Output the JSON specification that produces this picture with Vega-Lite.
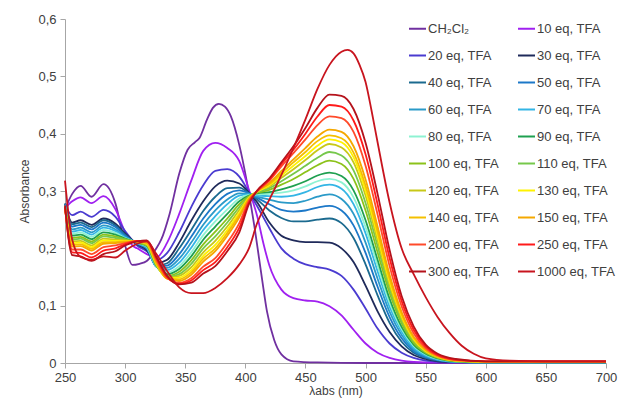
{
"$schema":"https://vega.github.io/schema/vega-lite/v6.json",
"width":541,"height":344,
"autosize":{"type":"none"},
"padding":{"left":65,"top":19,"right":13,"bottom":43},
"background":"white",
"config":{"view":{"stroke":null},"font":"Liberation Sans"},
"data":{"values":[
{"s":"0","x":250,"y":0.268},{"s":"0","x":256,"y":0.295},{"s":"0","x":263,"y":0.309},{"s":"0","x":272,"y":0.29},{"s":"0","x":282,"y":0.312},{"s":"0","x":292,"y":0.278},{"s":"0","x":300,"y":0.205},{"s":"0","x":306,"y":0.171},{"s":"0","x":312,"y":0.173},{"s":"0","x":318,"y":0.178},{"s":"0","x":326,"y":0.2},{"s":"0","x":330,"y":0.215},{"s":"0","x":337,"y":0.26},{"s":"0","x":345,"y":0.33},{"s":"0","x":352,"y":0.372},{"s":"0","x":358,"y":0.385},{"s":"0","x":362,"y":0.393},{"s":"0","x":368,"y":0.424},{"s":"0","x":373,"y":0.445},{"s":"0","x":378,"y":0.452},{"s":"0","x":383,"y":0.447},{"s":"0","x":388,"y":0.43},{"s":"0","x":395,"y":0.38},{"s":"0","x":401,"y":0.319},{"s":"0","x":408,"y":0.232},{"s":"0","x":414,"y":0.145},{"s":"0","x":418,"y":0.09},{"s":"0","x":424,"y":0.04},{"s":"0","x":430,"y":0.015},{"s":"0","x":440,"y":0.003},{"s":"0","x":460,"y":0.001},{"s":"0","x":500,"y":0},{"s":"0","x":600,"y":0},{"s":"0","x":700,"y":0},
{"s":"10","x":250,"y":0.27},{"s":"10","x":256,"y":0.282},{"s":"10","x":263,"y":0.289},{"s":"10","x":272,"y":0.279},{"s":"10","x":282,"y":0.291},{"s":"10","x":292,"y":0.268},{"s":"10","x":300,"y":0.228},{"s":"10","x":306,"y":0.205},{"s":"10","x":310,"y":0.2},{"s":"10","x":318,"y":0.19},{"s":"10","x":326,"y":0.184},{"s":"10","x":335,"y":0.21},{"s":"10","x":345,"y":0.26},{"s":"10","x":355,"y":0.318},{"s":"10","x":365,"y":0.37},{"s":"10","x":375,"y":0.384},{"s":"10","x":385,"y":0.375},{"s":"10","x":395,"y":0.352},{"s":"10","x":403,"y":0.302},{"s":"10","x":410,"y":0.255},{"s":"10","x":415,"y":0.209},{"s":"10","x":420,"y":0.17},{"s":"10","x":430,"y":0.128},{"s":"10","x":440,"y":0.113},{"s":"10","x":450,"y":0.109},{"s":"10","x":460,"y":0.107},{"s":"10","x":470,"y":0.099},{"s":"10","x":480,"y":0.083},{"s":"10","x":490,"y":0.058},{"s":"10","x":500,"y":0.034},{"s":"10","x":510,"y":0.018},{"s":"10","x":520,"y":0.009},{"s":"10","x":530,"y":0.004},{"s":"10","x":540,"y":0.002},{"s":"10","x":560,"y":0.001},{"s":"10","x":600,"y":0.001},{"s":"10","x":700,"y":0.001},
{"s":"20","x":250,"y":0.275},{"s":"20","x":256,"y":0.258},{"s":"20","x":263,"y":0.264},{"s":"20","x":272,"y":0.255},{"s":"20","x":282,"y":0.267},{"s":"20","x":292,"y":0.255},{"s":"20","x":300,"y":0.23},{"s":"20","x":310,"y":0.205},{"s":"20","x":318,"y":0.195},{"s":"20","x":326,"y":0.18},{"s":"20","x":335,"y":0.192},{"s":"20","x":345,"y":0.228},{"s":"20","x":355,"y":0.272},{"s":"20","x":365,"y":0.31},{"s":"20","x":375,"y":0.335},{"s":"20","x":385,"y":0.338},{"s":"20","x":395,"y":0.325},{"s":"20","x":403,"y":0.298},{"s":"20","x":410,"y":0.273},{"s":"20","x":420,"y":0.235},{"s":"20","x":430,"y":0.2},{"s":"20","x":440,"y":0.182},{"s":"20","x":450,"y":0.172},{"s":"20","x":460,"y":0.167},{"s":"20","x":470,"y":0.163},{"s":"20","x":480,"y":0.152},{"s":"20","x":490,"y":0.128},{"s":"20","x":500,"y":0.095},{"s":"20","x":510,"y":0.06},{"s":"20","x":520,"y":0.034},{"s":"20","x":530,"y":0.018},{"s":"20","x":540,"y":0.009},{"s":"20","x":550,"y":0.004},{"s":"20","x":560,"y":0.002},{"s":"20","x":575,"y":0.001},{"s":"20","x":600,"y":0.001},{"s":"20","x":650,"y":0.001},{"s":"20","x":700,"y":0.001},
{"s":"30","x":250,"y":0.278},{"s":"30","x":256,"y":0.245},{"s":"30","x":263,"y":0.249},{"s":"30","x":272,"y":0.241},{"s":"30","x":282,"y":0.252},{"s":"30","x":292,"y":0.243},{"s":"30","x":300,"y":0.226},{"s":"30","x":310,"y":0.207},{"s":"30","x":318,"y":0.197},{"s":"30","x":326,"y":0.174},{"s":"30","x":335,"y":0.18},{"s":"30","x":345,"y":0.21},{"s":"30","x":355,"y":0.248},{"s":"30","x":365,"y":0.282},{"s":"30","x":375,"y":0.308},{"s":"30","x":385,"y":0.318},{"s":"30","x":395,"y":0.313},{"s":"30","x":403,"y":0.297},{"s":"30","x":410,"y":0.28},{"s":"30","x":420,"y":0.245},{"s":"30","x":430,"y":0.222},{"s":"30","x":440,"y":0.214},{"s":"30","x":450,"y":0.211},{"s":"30","x":460,"y":0.211},{"s":"30","x":470,"y":0.21},{"s":"30","x":480,"y":0.2},{"s":"30","x":490,"y":0.176},{"s":"30","x":500,"y":0.135},{"s":"30","x":510,"y":0.09},{"s":"30","x":520,"y":0.054},{"s":"30","x":530,"y":0.029},{"s":"30","x":540,"y":0.014},{"s":"30","x":550,"y":0.007},{"s":"30","x":560,"y":0.003},{"s":"30","x":575,"y":0.002},{"s":"30","x":600,"y":0.001},{"s":"30","x":650,"y":0.001},{"s":"30","x":700,"y":0.001},
{"s":"40","x":250,"y":0.278},{"s":"40","x":256,"y":0.242},{"s":"40","x":263,"y":0.245},{"s":"40","x":272,"y":0.237},{"s":"40","x":282,"y":0.249},{"s":"40","x":292,"y":0.24},{"s":"40","x":300,"y":0.224},{"s":"40","x":310,"y":0.208},{"s":"40","x":318,"y":0.199},{"s":"40","x":326,"y":0.17},{"s":"40","x":335,"y":0.174},{"s":"40","x":345,"y":0.2},{"s":"40","x":355,"y":0.232},{"s":"40","x":365,"y":0.265},{"s":"40","x":375,"y":0.29},{"s":"40","x":385,"y":0.305},{"s":"40","x":395,"y":0.306},{"s":"40","x":403,"y":0.296},{"s":"40","x":410,"y":0.285},{"s":"40","x":420,"y":0.266},{"s":"40","x":430,"y":0.253},{"s":"40","x":440,"y":0.247},{"s":"40","x":450,"y":0.247},{"s":"40","x":460,"y":0.25},{"s":"40","x":470,"y":0.252},{"s":"40","x":480,"y":0.244},{"s":"40","x":490,"y":0.218},{"s":"40","x":500,"y":0.172},{"s":"40","x":510,"y":0.118},{"s":"40","x":520,"y":0.07},{"s":"40","x":530,"y":0.037},{"s":"40","x":540,"y":0.018},{"s":"40","x":550,"y":0.009},{"s":"40","x":560,"y":0.004},{"s":"40","x":575,"y":0.002},{"s":"40","x":600,"y":0.001},{"s":"40","x":650,"y":0.001},{"s":"40","x":700,"y":0.001},
{"s":"50","x":250,"y":0.277},{"s":"50","x":256,"y":0.238},{"s":"50","x":263,"y":0.241},{"s":"50","x":272,"y":0.233},{"s":"50","x":282,"y":0.245},{"s":"50","x":292,"y":0.237},{"s":"50","x":300,"y":0.222},{"s":"50","x":310,"y":0.208},{"s":"50","x":318,"y":0.2},{"s":"50","x":326,"y":0.169},{"s":"50","x":335,"y":0.17},{"s":"50","x":345,"y":0.19},{"s":"50","x":355,"y":0.22},{"s":"50","x":365,"y":0.252},{"s":"50","x":375,"y":0.277},{"s":"50","x":385,"y":0.295},{"s":"50","x":395,"y":0.301},{"s":"50","x":403,"y":0.296},{"s":"50","x":410,"y":0.288},{"s":"50","x":420,"y":0.277},{"s":"50","x":430,"y":0.267},{"s":"50","x":440,"y":0.264},{"s":"50","x":450,"y":0.266},{"s":"50","x":460,"y":0.271},{"s":"50","x":470,"y":0.274},{"s":"50","x":480,"y":0.266},{"s":"50","x":490,"y":0.24},{"s":"50","x":500,"y":0.192},{"s":"50","x":510,"y":0.133},{"s":"50","x":520,"y":0.08},{"s":"50","x":530,"y":0.043},{"s":"50","x":540,"y":0.021},{"s":"50","x":550,"y":0.01},{"s":"50","x":560,"y":0.005},{"s":"50","x":575,"y":0.002},{"s":"50","x":600,"y":0.001},{"s":"50","x":650,"y":0.001},{"s":"50","x":700,"y":0.001},
{"s":"60","x":250,"y":0.276},{"s":"60","x":256,"y":0.233},{"s":"60","x":263,"y":0.236},{"s":"60","x":272,"y":0.228},{"s":"60","x":282,"y":0.24},{"s":"60","x":292,"y":0.233},{"s":"60","x":300,"y":0.22},{"s":"60","x":310,"y":0.209},{"s":"60","x":318,"y":0.201},{"s":"60","x":326,"y":0.168},{"s":"60","x":335,"y":0.166},{"s":"60","x":345,"y":0.182},{"s":"60","x":355,"y":0.21},{"s":"60","x":365,"y":0.241},{"s":"60","x":375,"y":0.266},{"s":"60","x":385,"y":0.285},{"s":"60","x":395,"y":0.296},{"s":"60","x":403,"y":0.295},{"s":"60","x":410,"y":0.29},{"s":"60","x":420,"y":0.285},{"s":"60","x":430,"y":0.28},{"s":"60","x":440,"y":0.279},{"s":"60","x":450,"y":0.283},{"s":"60","x":460,"y":0.29},{"s":"60","x":470,"y":0.294},{"s":"60","x":480,"y":0.286},{"s":"60","x":490,"y":0.26},{"s":"60","x":500,"y":0.21},{"s":"60","x":510,"y":0.147},{"s":"60","x":520,"y":0.089},{"s":"60","x":530,"y":0.049},{"s":"60","x":540,"y":0.024},{"s":"60","x":550,"y":0.012},{"s":"60","x":560,"y":0.006},{"s":"60","x":575,"y":0.002},{"s":"60","x":600,"y":0.001},{"s":"60","x":650,"y":0.001},{"s":"60","x":700,"y":0.001},
{"s":"70","x":250,"y":0.275},{"s":"70","x":256,"y":0.229},{"s":"70","x":263,"y":0.232},{"s":"70","x":272,"y":0.224},{"s":"70","x":282,"y":0.236},{"s":"70","x":292,"y":0.23},{"s":"70","x":300,"y":0.219},{"s":"70","x":310,"y":0.209},{"s":"70","x":318,"y":0.202},{"s":"70","x":326,"y":0.168},{"s":"70","x":335,"y":0.162},{"s":"70","x":345,"y":0.175},{"s":"70","x":355,"y":0.201},{"s":"70","x":365,"y":0.232},{"s":"70","x":375,"y":0.256},{"s":"70","x":385,"y":0.277},{"s":"70","x":395,"y":0.292},{"s":"70","x":403,"y":0.294},{"s":"70","x":410,"y":0.292},{"s":"70","x":420,"y":0.291},{"s":"70","x":430,"y":0.29},{"s":"70","x":440,"y":0.292},{"s":"70","x":450,"y":0.298},{"s":"70","x":460,"y":0.307},{"s":"70","x":470,"y":0.311},{"s":"70","x":480,"y":0.304},{"s":"70","x":490,"y":0.277},{"s":"70","x":500,"y":0.226},{"s":"70","x":510,"y":0.16},{"s":"70","x":520,"y":0.098},{"s":"70","x":530,"y":0.055},{"s":"70","x":540,"y":0.027},{"s":"70","x":550,"y":0.013},{"s":"70","x":560,"y":0.006},{"s":"70","x":575,"y":0.002},{"s":"70","x":600,"y":0.001},{"s":"70","x":650,"y":0.001},{"s":"70","x":700,"y":0.001},
{"s":"80","x":250,"y":0.274},{"s":"80","x":256,"y":0.225},{"s":"80","x":263,"y":0.228},{"s":"80","x":272,"y":0.22},{"s":"80","x":282,"y":0.232},{"s":"80","x":292,"y":0.227},{"s":"80","x":300,"y":0.218},{"s":"80","x":310,"y":0.21},{"s":"80","x":318,"y":0.203},{"s":"80","x":326,"y":0.168},{"s":"80","x":335,"y":0.158},{"s":"80","x":345,"y":0.169},{"s":"80","x":355,"y":0.193},{"s":"80","x":365,"y":0.223},{"s":"80","x":375,"y":0.247},{"s":"80","x":385,"y":0.268},{"s":"80","x":395,"y":0.287},{"s":"80","x":403,"y":0.293},{"s":"80","x":410,"y":0.294},{"s":"80","x":420,"y":0.295},{"s":"80","x":430,"y":0.297},{"s":"80","x":440,"y":0.301},{"s":"80","x":450,"y":0.308},{"s":"80","x":460,"y":0.317},{"s":"80","x":470,"y":0.321},{"s":"80","x":480,"y":0.315},{"s":"80","x":490,"y":0.289},{"s":"80","x":500,"y":0.237},{"s":"80","x":510,"y":0.17},{"s":"80","x":520,"y":0.105},{"s":"80","x":530,"y":0.059},{"s":"80","x":540,"y":0.03},{"s":"80","x":550,"y":0.015},{"s":"80","x":560,"y":0.007},{"s":"80","x":575,"y":0.003},{"s":"80","x":600,"y":0.001},{"s":"80","x":650,"y":0.001},{"s":"80","x":700,"y":0.001},
{"s":"90","x":250,"y":0.273},{"s":"90","x":256,"y":0.222},{"s":"90","x":263,"y":0.224},{"s":"90","x":272,"y":0.216},{"s":"90","x":282,"y":0.228},{"s":"90","x":292,"y":0.224},{"s":"90","x":300,"y":0.217},{"s":"90","x":310,"y":0.21},{"s":"90","x":318,"y":0.204},{"s":"90","x":326,"y":0.169},{"s":"90","x":335,"y":0.155},{"s":"90","x":345,"y":0.164},{"s":"90","x":355,"y":0.186},{"s":"90","x":365,"y":0.215},{"s":"90","x":375,"y":0.238},{"s":"90","x":385,"y":0.26},{"s":"90","x":395,"y":0.282},{"s":"90","x":403,"y":0.292},{"s":"90","x":410,"y":0.296},{"s":"90","x":420,"y":0.298},{"s":"90","x":430,"y":0.303},{"s":"90","x":440,"y":0.309},{"s":"90","x":450,"y":0.317},{"s":"90","x":460,"y":0.327},{"s":"90","x":470,"y":0.332},{"s":"90","x":480,"y":0.326},{"s":"90","x":490,"y":0.301},{"s":"90","x":500,"y":0.249},{"s":"90","x":510,"y":0.18},{"s":"90","x":520,"y":0.112},{"s":"90","x":530,"y":0.063},{"s":"90","x":540,"y":0.032},{"s":"90","x":550,"y":0.016},{"s":"90","x":560,"y":0.008},{"s":"90","x":575,"y":0.003},{"s":"90","x":600,"y":0.001},{"s":"90","x":650,"y":0.001},{"s":"90","x":700,"y":0.001},
{"s":"100","x":250,"y":0.272},{"s":"100","x":256,"y":0.218},{"s":"100","x":263,"y":0.22},{"s":"100","x":272,"y":0.212},{"s":"100","x":282,"y":0.224},{"s":"100","x":292,"y":0.221},{"s":"100","x":300,"y":0.216},{"s":"100","x":310,"y":0.21},{"s":"100","x":318,"y":0.205},{"s":"100","x":326,"y":0.17},{"s":"100","x":335,"y":0.152},{"s":"100","x":345,"y":0.159},{"s":"100","x":355,"y":0.179},{"s":"100","x":365,"y":0.207},{"s":"100","x":375,"y":0.229},{"s":"100","x":385,"y":0.252},{"s":"100","x":395,"y":0.277},{"s":"100","x":403,"y":0.291},{"s":"100","x":410,"y":0.297},{"s":"100","x":420,"y":0.302},{"s":"100","x":430,"y":0.311},{"s":"100","x":440,"y":0.321},{"s":"100","x":450,"y":0.333},{"s":"100","x":460,"y":0.345},{"s":"100","x":470,"y":0.353},{"s":"100","x":480,"y":0.347},{"s":"100","x":490,"y":0.321},{"s":"100","x":500,"y":0.266},{"s":"100","x":510,"y":0.193},{"s":"100","x":520,"y":0.122},{"s":"100","x":530,"y":0.069},{"s":"100","x":540,"y":0.035},{"s":"100","x":550,"y":0.018},{"s":"100","x":560,"y":0.009},{"s":"100","x":575,"y":0.003},{"s":"100","x":600,"y":0.002},{"s":"100","x":650,"y":0.002},{"s":"100","x":700,"y":0.002},
{"s":"110","x":250,"y":0.271},{"s":"110","x":256,"y":0.215},{"s":"110","x":263,"y":0.217},{"s":"110","x":272,"y":0.209},{"s":"110","x":282,"y":0.221},{"s":"110","x":292,"y":0.218},{"s":"110","x":300,"y":0.215},{"s":"110","x":310,"y":0.211},{"s":"110","x":318,"y":0.206},{"s":"110","x":326,"y":0.171},{"s":"110","x":335,"y":0.15},{"s":"110","x":345,"y":0.155},{"s":"110","x":355,"y":0.173},{"s":"110","x":365,"y":0.2},{"s":"110","x":375,"y":0.221},{"s":"110","x":385,"y":0.245},{"s":"110","x":395,"y":0.272},{"s":"110","x":403,"y":0.29},{"s":"110","x":410,"y":0.298},{"s":"110","x":420,"y":0.305},{"s":"110","x":430,"y":0.317},{"s":"110","x":440,"y":0.33},{"s":"110","x":450,"y":0.344},{"s":"110","x":460,"y":0.358},{"s":"110","x":470,"y":0.368},{"s":"110","x":480,"y":0.362},{"s":"110","x":490,"y":0.336},{"s":"110","x":500,"y":0.279},{"s":"110","x":510,"y":0.204},{"s":"110","x":520,"y":0.129},{"s":"110","x":530,"y":0.073},{"s":"110","x":540,"y":0.038},{"s":"110","x":550,"y":0.019},{"s":"110","x":560,"y":0.01},{"s":"110","x":575,"y":0.004},{"s":"110","x":600,"y":0.002},{"s":"110","x":650,"y":0.002},{"s":"110","x":700,"y":0.002},
{"s":"120","x":250,"y":0.27},{"s":"120","x":256,"y":0.212},{"s":"120","x":263,"y":0.213},{"s":"120","x":272,"y":0.205},{"s":"120","x":282,"y":0.217},{"s":"120","x":292,"y":0.215},{"s":"120","x":300,"y":0.214},{"s":"120","x":310,"y":0.211},{"s":"120","x":318,"y":0.207},{"s":"120","x":326,"y":0.172},{"s":"120","x":335,"y":0.149},{"s":"120","x":345,"y":0.152},{"s":"120","x":355,"y":0.167},{"s":"120","x":365,"y":0.193},{"s":"120","x":375,"y":0.213},{"s":"120","x":385,"y":0.238},{"s":"120","x":395,"y":0.267},{"s":"120","x":403,"y":0.289},{"s":"120","x":410,"y":0.299},{"s":"120","x":420,"y":0.308},{"s":"120","x":430,"y":0.323},{"s":"120","x":440,"y":0.338},{"s":"120","x":450,"y":0.354},{"s":"120","x":460,"y":0.371},{"s":"120","x":470,"y":0.382},{"s":"120","x":480,"y":0.376},{"s":"120","x":490,"y":0.35},{"s":"120","x":500,"y":0.292},{"s":"120","x":510,"y":0.214},{"s":"120","x":520,"y":0.136},{"s":"120","x":530,"y":0.078},{"s":"120","x":540,"y":0.04},{"s":"120","x":550,"y":0.02},{"s":"120","x":560,"y":0.01},{"s":"120","x":575,"y":0.004},{"s":"120","x":600,"y":0.002},{"s":"120","x":650,"y":0.002},{"s":"120","x":700,"y":0.002},
{"s":"130","x":250,"y":0.27},{"s":"130","x":256,"y":0.209},{"s":"130","x":263,"y":0.21},{"s":"130","x":272,"y":0.202},{"s":"130","x":282,"y":0.214},{"s":"130","x":292,"y":0.213},{"s":"130","x":300,"y":0.213},{"s":"130","x":310,"y":0.212},{"s":"130","x":318,"y":0.208},{"s":"130","x":326,"y":0.173},{"s":"130","x":335,"y":0.148},{"s":"130","x":345,"y":0.149},{"s":"130","x":355,"y":0.162},{"s":"130","x":365,"y":0.187},{"s":"130","x":375,"y":0.206},{"s":"130","x":385,"y":0.232},{"s":"130","x":395,"y":0.262},{"s":"130","x":403,"y":0.288},{"s":"130","x":410,"y":0.299},{"s":"130","x":420,"y":0.31},{"s":"130","x":430,"y":0.327},{"s":"130","x":440,"y":0.344},{"s":"130","x":450,"y":0.361},{"s":"130","x":460,"y":0.379},{"s":"130","x":470,"y":0.39},{"s":"130","x":480,"y":0.385},{"s":"130","x":490,"y":0.359},{"s":"130","x":500,"y":0.301},{"s":"130","x":510,"y":0.222},{"s":"130","x":520,"y":0.142},{"s":"130","x":530,"y":0.082},{"s":"130","x":540,"y":0.042},{"s":"130","x":550,"y":0.021},{"s":"130","x":560,"y":0.011},{"s":"130","x":575,"y":0.004},{"s":"130","x":600,"y":0.002},{"s":"130","x":650,"y":0.002},{"s":"130","x":700,"y":0.002},
{"s":"140","x":250,"y":0.27},{"s":"140","x":256,"y":0.206},{"s":"140","x":263,"y":0.207},{"s":"140","x":272,"y":0.199},{"s":"140","x":282,"y":0.211},{"s":"140","x":292,"y":0.211},{"s":"140","x":300,"y":0.212},{"s":"140","x":310,"y":0.212},{"s":"140","x":318,"y":0.209},{"s":"140","x":326,"y":0.174},{"s":"140","x":335,"y":0.147},{"s":"140","x":345,"y":0.146},{"s":"140","x":355,"y":0.158},{"s":"140","x":365,"y":0.182},{"s":"140","x":375,"y":0.2},{"s":"140","x":385,"y":0.227},{"s":"140","x":395,"y":0.258},{"s":"140","x":403,"y":0.287},{"s":"140","x":410,"y":0.3},{"s":"140","x":420,"y":0.312},{"s":"140","x":430,"y":0.331},{"s":"140","x":440,"y":0.35},{"s":"140","x":450,"y":0.368},{"s":"140","x":460,"y":0.387},{"s":"140","x":470,"y":0.397},{"s":"140","x":480,"y":0.392},{"s":"140","x":490,"y":0.367},{"s":"140","x":500,"y":0.309},{"s":"140","x":510,"y":0.229},{"s":"140","x":520,"y":0.147},{"s":"140","x":530,"y":0.085},{"s":"140","x":540,"y":0.044},{"s":"140","x":550,"y":0.022},{"s":"140","x":560,"y":0.011},{"s":"140","x":575,"y":0.004},{"s":"140","x":600,"y":0.002},{"s":"140","x":650,"y":0.002},{"s":"140","x":700,"y":0.002},
{"s":"150","x":250,"y":0.27},{"s":"150","x":256,"y":0.203},{"s":"150","x":263,"y":0.204},{"s":"150","x":272,"y":0.196},{"s":"150","x":282,"y":0.208},{"s":"150","x":292,"y":0.209},{"s":"150","x":300,"y":0.211},{"s":"150","x":310,"y":0.212},{"s":"150","x":318,"y":0.21},{"s":"150","x":326,"y":0.176},{"s":"150","x":335,"y":0.147},{"s":"150","x":345,"y":0.143},{"s":"150","x":355,"y":0.154},{"s":"150","x":365,"y":0.177},{"s":"150","x":375,"y":0.195},{"s":"150","x":385,"y":0.222},{"s":"150","x":395,"y":0.254},{"s":"150","x":403,"y":0.286},{"s":"150","x":410,"y":0.3},{"s":"150","x":420,"y":0.314},{"s":"150","x":430,"y":0.335},{"s":"150","x":440,"y":0.355},{"s":"150","x":450,"y":0.375},{"s":"150","x":460,"y":0.395},{"s":"150","x":470,"y":0.407},{"s":"150","x":480,"y":0.403},{"s":"150","x":490,"y":0.378},{"s":"150","x":500,"y":0.32},{"s":"150","x":510,"y":0.238},{"s":"150","x":520,"y":0.154},{"s":"150","x":530,"y":0.089},{"s":"150","x":540,"y":0.046},{"s":"150","x":550,"y":0.023},{"s":"150","x":560,"y":0.012},{"s":"150","x":575,"y":0.005},{"s":"150","x":600,"y":0.002},{"s":"150","x":650,"y":0.002},{"s":"150","x":700,"y":0.002},
{"s":"200","x":250,"y":0.27},{"s":"200","x":256,"y":0.198},{"s":"200","x":263,"y":0.198},{"s":"200","x":272,"y":0.19},{"s":"200","x":282,"y":0.202},{"s":"200","x":292,"y":0.205},{"s":"200","x":300,"y":0.209},{"s":"200","x":310,"y":0.213},{"s":"200","x":318,"y":0.212},{"s":"200","x":326,"y":0.18},{"s":"200","x":335,"y":0.148},{"s":"200","x":345,"y":0.14},{"s":"200","x":355,"y":0.148},{"s":"200","x":365,"y":0.168},{"s":"200","x":375,"y":0.183},{"s":"200","x":385,"y":0.21},{"s":"200","x":395,"y":0.244},{"s":"200","x":403,"y":0.283},{"s":"200","x":410,"y":0.3},{"s":"200","x":420,"y":0.318},{"s":"200","x":430,"y":0.343},{"s":"200","x":440,"y":0.366},{"s":"200","x":450,"y":0.39},{"s":"200","x":460,"y":0.415},{"s":"200","x":470,"y":0.43},{"s":"200","x":480,"y":0.427},{"s":"200","x":490,"y":0.403},{"s":"200","x":500,"y":0.344},{"s":"200","x":510,"y":0.259},{"s":"200","x":520,"y":0.169},{"s":"200","x":530,"y":0.099},{"s":"200","x":540,"y":0.052},{"s":"200","x":550,"y":0.026},{"s":"200","x":560,"y":0.013},{"s":"200","x":575,"y":0.005},{"s":"200","x":600,"y":0.003},{"s":"200","x":650,"y":0.003},{"s":"200","x":700,"y":0.003},
{"s":"250","x":250,"y":0.272},{"s":"250","x":256,"y":0.193},{"s":"250","x":263,"y":0.192},{"s":"250","x":272,"y":0.184},{"s":"250","x":282,"y":0.196},{"s":"250","x":292,"y":0.2},{"s":"250","x":300,"y":0.207},{"s":"250","x":310,"y":0.213},{"s":"250","x":318,"y":0.213},{"s":"250","x":326,"y":0.183},{"s":"250","x":335,"y":0.15},{"s":"250","x":345,"y":0.138},{"s":"250","x":355,"y":0.144},{"s":"250","x":365,"y":0.162},{"s":"250","x":375,"y":0.176},{"s":"250","x":385,"y":0.202},{"s":"250","x":395,"y":0.236},{"s":"250","x":403,"y":0.28},{"s":"250","x":410,"y":0.301},{"s":"250","x":420,"y":0.32},{"s":"250","x":430,"y":0.347},{"s":"250","x":440,"y":0.372},{"s":"250","x":450,"y":0.4},{"s":"250","x":460,"y":0.43},{"s":"250","x":470,"y":0.45},{"s":"250","x":480,"y":0.447},{"s":"250","x":490,"y":0.423},{"s":"250","x":500,"y":0.364},{"s":"250","x":510,"y":0.277},{"s":"250","x":520,"y":0.183},{"s":"250","x":530,"y":0.108},{"s":"250","x":540,"y":0.058},{"s":"250","x":550,"y":0.029},{"s":"250","x":560,"y":0.014},{"s":"250","x":575,"y":0.006},{"s":"250","x":600,"y":0.003},{"s":"250","x":650,"y":0.003},{"s":"250","x":700,"y":0.003},
{"s":"300","x":250,"y":0.275},{"s":"300","x":256,"y":0.188},{"s":"300","x":263,"y":0.186},{"s":"300","x":272,"y":0.178},{"s":"300","x":282,"y":0.19},{"s":"300","x":292,"y":0.195},{"s":"300","x":300,"y":0.205},{"s":"300","x":310,"y":0.212},{"s":"300","x":318,"y":0.214},{"s":"300","x":326,"y":0.185},{"s":"300","x":335,"y":0.152},{"s":"300","x":345,"y":0.137},{"s":"300","x":355,"y":0.14},{"s":"300","x":365,"y":0.156},{"s":"300","x":375,"y":0.169},{"s":"300","x":385,"y":0.195},{"s":"300","x":395,"y":0.228},{"s":"300","x":403,"y":0.277},{"s":"300","x":410,"y":0.301},{"s":"300","x":420,"y":0.322},{"s":"300","x":430,"y":0.35},{"s":"300","x":440,"y":0.378},{"s":"300","x":450,"y":0.41},{"s":"300","x":460,"y":0.445},{"s":"300","x":470,"y":0.468},{"s":"300","x":480,"y":0.466},{"s":"300","x":490,"y":0.443},{"s":"300","x":500,"y":0.384},{"s":"300","x":510,"y":0.295},{"s":"300","x":520,"y":0.197},{"s":"300","x":530,"y":0.117},{"s":"300","x":540,"y":0.064},{"s":"300","x":550,"y":0.032},{"s":"300","x":560,"y":0.016},{"s":"300","x":575,"y":0.007},{"s":"300","x":600,"y":0.003},{"s":"300","x":650,"y":0.003},{"s":"300","x":700,"y":0.003},
{"s":"1000","x":250,"y":0.318},{"s":"1000","x":256,"y":0.215},{"s":"1000","x":263,"y":0.185},{"s":"1000","x":272,"y":0.18},{"s":"1000","x":282,"y":0.186},{"s":"1000","x":292,"y":0.184},{"s":"1000","x":300,"y":0.196},{"s":"1000","x":310,"y":0.208},{"s":"1000","x":318,"y":0.212},{"s":"1000","x":326,"y":0.19},{"s":"1000","x":335,"y":0.16},{"s":"1000","x":345,"y":0.132},{"s":"1000","x":355,"y":0.122},{"s":"1000","x":365,"y":0.122},{"s":"1000","x":375,"y":0.131},{"s":"1000","x":385,"y":0.148},{"s":"1000","x":395,"y":0.172},{"s":"1000","x":403,"y":0.2},{"s":"1000","x":410,"y":0.245},{"s":"1000","x":420,"y":0.285},{"s":"1000","x":430,"y":0.328},{"s":"1000","x":440,"y":0.375},{"s":"1000","x":450,"y":0.425},{"s":"1000","x":460,"y":0.478},{"s":"1000","x":470,"y":0.52},{"s":"1000","x":480,"y":0.543},{"s":"1000","x":485,"y":0.546},{"s":"1000","x":490,"y":0.54},{"s":"1000","x":495,"y":0.52},{"s":"1000","x":500,"y":0.49},{"s":"1000","x":505,"y":0.44},{"s":"1000","x":510,"y":0.385},{"s":"1000","x":520,"y":0.28},{"s":"1000","x":530,"y":0.2},{"s":"1000","x":540,"y":0.155},{"s":"1000","x":550,"y":0.115},{"s":"1000","x":560,"y":0.08},{"s":"1000","x":570,"y":0.052},{"s":"1000","x":580,"y":0.03},{"s":"1000","x":590,"y":0.016},{"s":"1000","x":600,"y":0.008},{"s":"1000","x":620,"y":0.004},{"s":"1000","x":650,"y":0.003},{"s":"1000","x":700,"y":0.003}
]},
"mark":{"type":"line","interpolate":"monotone","strokeWidth":1.8},
"encoding":{
"x":{"field":"x","type":"quantitative","scale":{"domain":[250,700],"nice":false,"zero":false},
"axis":{"values":[250,300,350,400,450,500,550,600,650,700],"title":"λabs (nm)","grid":false,"labelFlush":false,"labelFontSize":13,"labelColor":"#404040","titleFontSize":12,"titleFontWeight":"normal","titleColor":"#404040","tickSize":5,"domainColor":"#A6A6A6","tickColor":"#A6A6A6","labelPadding":3,"titlePadding":1}},
"y":{"field":"y","type":"quantitative","scale":{"domain":[0,0.6],"nice":false},
"axis":{"values":[0,0.1,0.2,0.3,0.4,0.5,0.6],"labelExpr":"replace(format(datum.value,'.1~f'),'.',',')","title":"Absorbance","grid":false,"labelFlush":false,"labelFontSize":13,"labelColor":"#404040","titleFontSize":12,"titleFontWeight":"normal","titleColor":"#404040","tickSize":5,"domainColor":"#A6A6A6","tickColor":"#A6A6A6","labelPadding":4,"titlePadding":6}},
"color":{"field":"s","type":"nominal",
"scale":{"domain":["0","10","20","30","40","50","60","70","80","90","100","110","120","130","140","150","200","250","300","1000"],
"range":["#7030A0","#A020F0","#4A3BD0","#1F2A5A","#1B6A8F","#1C78C8","#2A9AC8","#33B5E5","#8EF2D2","#1FA050","#8CC21A","#76C84B","#C8C818","#FFF200","#F4C000","#F5A800","#FF4A2A","#FF1A1A","#B5121B","#C8141E"]},
"legend":{"orient":"none","direction":"horizontal","legendX":343,"legendY":0,"columns":2,"title":null,"symbolType":"stroke","symbolSize":289,"symbolStrokeWidth":2,"labelFontSize":13,"labelColor":"#404040","labelFont":"Liberation Sans","rowPadding":10,"columnPadding":15,"labelOffset":1,"labelLimit":200,
"labelExpr":"datum.label == '0' ? 'CH₂Cl₂' : datum.label + ' eq, TFA'"}}
}
}
